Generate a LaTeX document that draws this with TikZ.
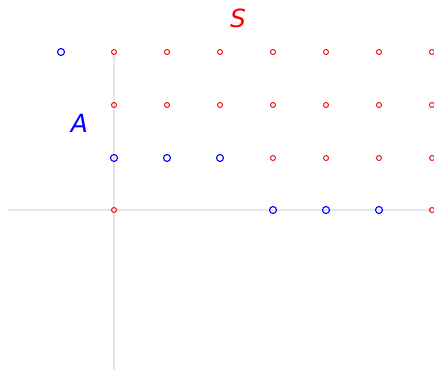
\documentclass[tikz,border=0pt]{standalone}
\usepackage{fontspec}
\setmainfont{DejaVu Sans}
\usetikzlibrary{arrows.meta}
\definecolor{axisgray}{RGB}{230,230,230}
\begin{document}
\begin{tikzpicture}[x=1pt,y=-1pt,
  rdot/.style={circle,draw=red,line width=0.9pt,inner sep=0pt,minimum size=5pt},
  bdot/.style={circle,draw=blue,line width=1.1pt,inner sep=0pt,minimum size=7pt},
  axisline/.style={draw=axisgray,line width=1.2pt,-{Stealth[length=4pt,width=5pt]}},
  lbl/.style={font=\fontsize{25}{25}\selectfont\itshape,inner sep=0pt}]
\useasboundingbox (0,0) rectangle (434,370);
\coordinate (xs) at (8,210);
\coordinate (xe) at (432,210);
\coordinate (ys) at (114,370);
\coordinate (ye) at (114,54);
\draw[axisline] (xs) -- (xe);
\draw[axisline] (ys) -- (ye);
% red points
\foreach \i in {0,...,6}{
  \node[rdot] (r3-\i) at (114+53*\i,52) {};
  \node[rdot] (r2-\i) at (114+53*\i,105) {};
}
\foreach \i in {3,...,6}{
  \node[rdot] (r1-\i) at (114+53*\i,158) {};
}
\node[rdot] (r0-0) at (114,210) {};
\node[rdot] (r0-6) at (432,210) {};
% blue points
\node[bdot] (b3-m1) at (61,52) {};
\foreach \i in {0,1,2}{
  \node[bdot] (b1-\i) at (114+53*\i,158) {};
}
\foreach \i in {3,4,5}{
  \node[bdot] (b0-\i) at (114+53*\i,210) {};
}
\node[lbl,text=red] (S) at (238,18) {S};
\node[lbl,text=blue] (A) at (79.5,123.5) {A};
\end{tikzpicture}
\end{document}
